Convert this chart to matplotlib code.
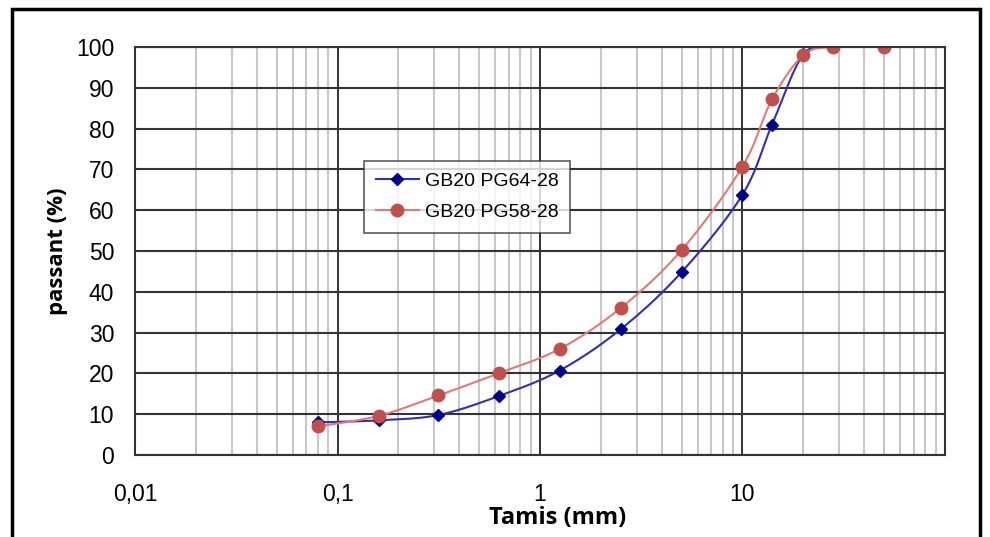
import matplotlib.pyplot as plt
import numpy as np
from matplotlib.patches import Rectangle
from matplotlib.ticker import LogLocator, NullFormatter

plt.rcParams['font.family'] = ['Liberation Sans', 'DejaVu Sans']

# sieve sizes (mm) and passing percentages
sieves_64 = [0.08, 0.16, 0.315, 0.63, 1.25, 2.5, 5, 10, 14, 20, 28]
pass_64 = [8.0, 8.5, 9.8, 14.5, 20.7, 30.8, 44.8, 63.8, 81.0, 98.2, 100]
sieves_58 = [0.08, 0.16, 0.315, 0.63, 1.25, 2.5, 5, 10, 14, 20, 28, 50]
pass_58 = [7.0, 9.6, 14.6, 20.1, 26.0, 36.0, 50.2, 70.7, 87.2, 98.0, 100, 100]

x_ticks = [0.01, 0.1, 1, 10]
x_labels = ['0,01', '0,1', '1', '10']


def smooth(xs, ys, n=20):
    # Catmull-Rom curve in log-x space, like Excel's smoothed line
    lx = np.log10(xs)
    y = np.asarray(ys, float)
    px = np.concatenate([[lx[0]], lx, [lx[-1]]])
    py = np.concatenate([[y[0]], y, [y[-1]]])
    ox, oy = [], []
    t = np.linspace(0, 1, n)
    for i in range(1, len(px) - 2):
        for p, out in ((px, ox), (py, oy)):
            p0, p1, p2, p3 = p[i - 1], p[i], p[i + 1], p[i + 2]
            out.extend(0.5 * (2 * p1 + (-p0 + p2) * t
                              + (2 * p0 - 5 * p1 + 4 * p2 - p3) * t ** 2
                              + (-p0 + 3 * p1 - 3 * p2 + p3) * t ** 3))
    return 10 ** np.array(ox), np.array(oy)


fig = plt.figure(figsize=(9.9, 5.37), dpi=100)
ax = fig.add_axes([0.1364, 0.1527, 0.8181, 0.7598])

ax.set_xscale('log')
ax.set_xlim(0.01, 100)
ax.set_ylim(0, 100)

ax.xaxis.set_minor_locator(LogLocator(base=10, subs=np.arange(2, 10)))
ax.xaxis.set_minor_formatter(NullFormatter())
ax.set_xticks(x_ticks + [100])
ax.set_xticklabels(x_labels + [''])
ax.set_yticks(range(0, 101, 10))

ax.grid(which='minor', axis='x', color='#c8c8c8', lw=1.5)
ax.grid(which='major', axis='x', color='#222222', lw=1.3)
ax.grid(which='major', axis='y', color='#333333', lw=1.5)
ax.set_axisbelow(True)
ax.tick_params(which='both', length=0)
ax.tick_params(axis='x', pad=20, labelsize=16.5)
ax.tick_params(axis='y', pad=15, labelsize=16.5)
for s in ax.spines.values():
    s.set_color('#333333')
    s.set_linewidth(1.5)

sx, sy = smooth(sieves_64, pass_64)
ax.plot(sx, sy, color='#3030b0', lw=1.5)
ax.plot(sieves_64, pass_64, ls='none', marker='D', ms=6, color='#00008b')
sx, sy = smooth(sieves_58, pass_58)
ax.plot(sx, sy, color='#e07a78', lw=1.5)
ax.plot(sieves_58, pass_58, ls='none', marker='o', ms=9, color='#c0504d')

h1, = ax.plot([], [], color='#3030b0', lw=1.5, marker='D', ms=6, mfc='#00008b', mec='#00008b', label='GB20 PG64-28')
h2, = ax.plot([], [], color='#e07a78', lw=1.5, marker='o', ms=9, mfc='#c0504d', mec='#c0504d', label='GB20 PG58-28')
leg = ax.legend(handles=[h1, h2], loc='upper left', bbox_to_anchor=(0.271, 0.745),
                fontsize=14, frameon=True, fancybox=False, borderpad=0.6,
                handlelength=2.2, labelspacing=0.7, handletextpad=0.3)
leg.get_frame().set_edgecolor('#333333')
leg.get_frame().set_linewidth(1.2)

ax.set_xlabel('Tamis (mm)', fontsize=17, fontweight='bold', labelpad=1,
              family=['Open Sans', 'DejaVu Sans'])
ax.xaxis.set_label_coords(0.522, -0.125)
ax.set_ylabel('passant (%)', fontsize=16, fontweight='bold', labelpad=6,
              family=['Open Sans', 'DejaVu Sans'])

# outer frame of the original screenshot
fig.add_artist(Rectangle((12 / 990, -0.2), 968 / 990, 1.2 - 9 / 537, transform=fig.transFigure,
                         fill=False, ec='black', lw=2.5))

fig.savefig('out.png', dpi=100)
